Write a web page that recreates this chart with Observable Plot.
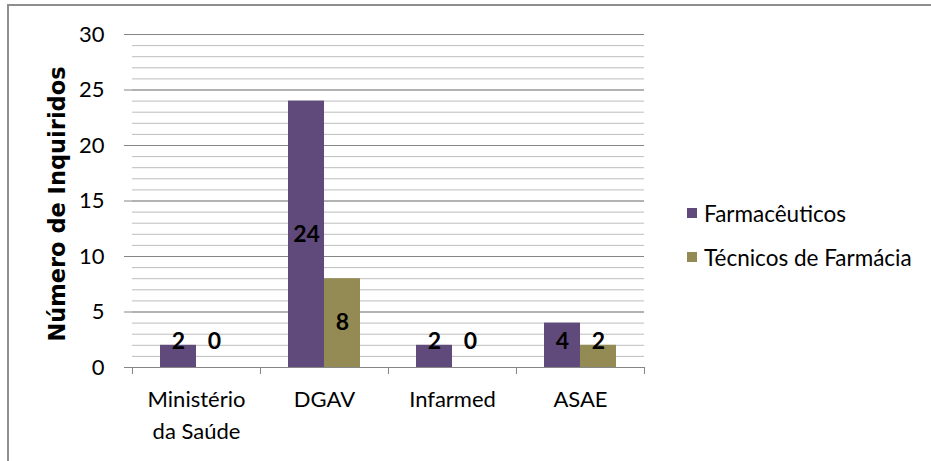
<!DOCTYPE html>
<html>
<head>
<meta charset="utf-8">
<script src="https://cdn.jsdelivr.net/npm/d3@7"></script>
<script src="https://cdn.jsdelivr.net/npm/@observablehq/plot@0.6"></script>
<style>
  html, body { margin: 0; padding: 0; background: #fff; overflow: hidden; }
  #wrap { position: relative; width: 931px; height: 461px; font-family: Lato, sans-serif; }
  #border { position: absolute; left: 7px; top: 4px; width: 1000px; height: 1000px; border: 2px solid #8e8e8e; box-sizing: border-box; pointer-events: none; }
  #legend { position: absolute; left: 687px; top: 201px; font-size: 22.5px; color: #000; }
  .item { display: flex; align-items: center; height: 24px; margin-bottom: 20px; white-space: nowrap; }
  .sw { width: 10px; height: 10px; margin-right: 7px; }
</style>
</head>
<body>
<div id="wrap">
  <div id="chart"></div>
  <div id="legend"></div>
  <div id="border"></div>
</div>
<script>
const categories = ["Ministério da Saúde", "DGAV", "Infarmed", "ASAE"];
const series = ["Farmacêuticos", "Técnicos de Farmácia"];
const farmaceuticos = [2, 24, 2, 4];
const tecnicos = [0, 8, 0, 2];
const colors = ["#604A7B", "#948A54"];
const yMajorTicks = [0, 5, 10, 15, 20, 25, 30];
const yMinorTicks = d3.range(0, 31);
const yTitle = "Número de Inquiridos";

const data = categories.flatMap((c, i) => [
  {category: c, series: series[0], value: farmaceuticos[i]},
  {category: c, series: series[1], value: tecnicos[i]}
]);

const chart = Plot.plot({
  width: 931,
  height: 461,
  marginLeft: 130,
  marginRight: 286,
  marginTop: 34,
  marginBottom: 94,
  style: {fontFamily: "Lato, sans-serif", fontSize: "20px", color: "#000", background: "transparent"},
  fx: {domain: categories, padding: 0, label: null, axis: null},
  x: {domain: series, paddingInner: 0, paddingOuter: 0.764, axis: null},
  y: {domain: [0, 30], axis: null},
  color: {domain: series, range: colors},
  marks: [
    Plot.gridY(yMinorTicks, {stroke: "#bdbdbd", strokeOpacity: 1}),
    Plot.gridY(yMajorTicks, {stroke: "#868686", strokeOpacity: 1}),
    Plot.barY(data, {fx: "category", x: "series", y: "value", fill: "series"}),
    Plot.text(data, {
      fx: "category", x: "series",
      y: d => Math.max(d.value / 2, 2.35),
      text: d => String(d.value),
      fontWeight: "bold", fontSize: 23, fill: "#000"
    }),
    Plot.frame({anchor: "left", insetTop: 333, insetBottom: -6, stroke: "#868686"}),
    Plot.frame({anchor: "right", insetTop: 333, insetBottom: -6, stroke: "#868686", facetAnchor: "right"}),
    Plot.axisY(yMajorTicks, {tickSize: 8, tickPadding: 20, fontSize: 22, label: null, stroke: "#868686", fill: "#000", line: true}),
    Plot.axisFx({anchor: "bottom", tickSize: 0, tickPadding: 17, fontSize: 22, lineWidth: 5.5, lineHeight: 1.45, label: null, fill: "#000"}),
    Plot.text([yTitle], {
      frameAnchor: "left", rotate: -90, textAnchor: "middle", dx: -75, dy: 3,
      fontFamily: "DejaVu Sans", fontWeight: "bold", fontSize: 22.5, fill: "#000", facetAnchor: "left"
    })
  ]
});
document.getElementById("chart").appendChild(chart);

const legend = document.getElementById("legend");
series.forEach((s, i) => {
  const item = document.createElement("div");
  item.className = "item";
  const sw = document.createElement("span");
  sw.className = "sw";
  sw.style.background = colors[i];
  const t = document.createElement("span");
  t.textContent = s;
  item.appendChild(sw);
  item.appendChild(t);
  legend.appendChild(item);
});
</script>
</body>
</html>
